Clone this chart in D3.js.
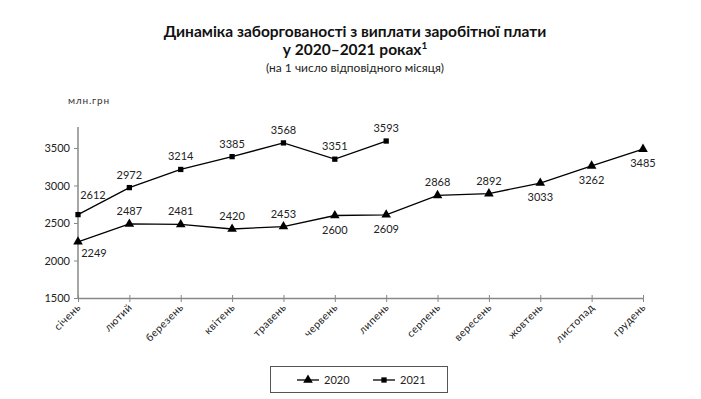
<!DOCTYPE html>
<html><head><meta charset="utf-8">
<script src="https://cdn.jsdelivr.net/npm/d3@7"></script>
<style>
html,body{margin:0;padding:0;background:#fff;}
svg{display:block;font-family:Lato, "Open Sans", sans-serif;}
</style></head><body>
<svg id="c" width="701" height="399"></svg>
<script>
const months = ["січень","лютий","березень","квітень","травень","червень","липень","серпень","вересень","жовтень","листопад","грудень"];
const values2020 = [2249,2487,2481,2420,2453,2600,2609,2868,2892,3033,3262,3485];
const values2021 = [2612,2972,3214,3385,3568,3351,3593];
const yTicks = [1500,2000,2500,3000,3500];
const labelPos2020 = ["belowRight","above","above","above","above","below","below","above","above","below","below","below"];
const labelPos2021 = ["aboveRight","above","above","above","above","above","above"];

const svg = d3.select("#c");
const x = d3.scalePoint().domain(months).range([78, 643]);
const y = d3.scaleLinear().domain([1500, 3780]).range([298, 127]);

// titles
svg.append("text").attr("x",355).attr("y",37).attr("text-anchor","middle")
  .attr("font-size",15.5).attr("font-weight","bold").attr("fill","#111")
  .text("Динаміка заборгованості з виплати заробітної плати");
const t2 = svg.append("text").attr("x",355).attr("y",55).attr("text-anchor","middle")
  .attr("font-size",15.5).attr("font-weight","bold").attr("fill","#111");
t2.append("tspan").text("у 2020–2021 роках");
t2.append("tspan").attr("font-size",10).attr("dy",-6).text("1");
svg.append("text").attr("x",355).attr("y",72).attr("text-anchor","middle")
  .attr("font-size",12).attr("fill","#222").text("(на 1 число відповідного місяця)");
svg.append("text").attr("x",68).attr("y",104).attr("font-size",10).attr("letter-spacing",0.8).attr("fill","#333").text("млн.грн");

// axes
const yAxis = svg.append("g").attr("transform","translate(78,0)")
  .call(d3.axisLeft(y).tickValues(yTicks).tickSize(4).tickPadding(4).tickFormat(d3.format("d")));
yAxis.select(".domain").attr("stroke","#888").attr("stroke-width",1.5).attr("d","M0,127V298");
yAxis.selectAll(".tick line").attr("stroke","#888");
yAxis.selectAll("text").attr("font-size",11).attr("fill","#222").attr("font-family","Lato, sans-serif");

const xAxis = svg.append("g").attr("transform","translate(0,298)")
  .call(d3.axisBottom(x).tickSize(4).tickSizeOuter(0));
xAxis.select(".domain").attr("stroke","#888").attr("stroke-width",1.5);
xAxis.selectAll(".tick line").attr("stroke","#888").attr("y1",-3);
xAxis.selectAll("text").attr("font-size",10.5).attr("letter-spacing",0.5).attr("fill","#222").attr("font-family","Lato, sans-serif")
  .attr("text-anchor","end").attr("dy",0).attr("y",0)
  .attr("transform","translate(3,10) rotate(-45)");

// lines
const line2020 = d3.line().x((d,i)=>x(months[i])).y(d=>y(d));
svg.append("path").attr("d",line2020(values2020)).attr("fill","none").attr("stroke","#000").attr("stroke-width",1.3);
svg.append("path").attr("d",line2020(values2021)).attr("fill","none").attr("stroke","#000").attr("stroke-width",1.3);

const tri = d3.symbol().type(d3.symbolTriangle).size(40);
const sq = d3.symbol().type(d3.symbolSquare).size(28);
svg.selectAll(".m20").data(values2020).enter().append("path")
  .attr("d",tri).attr("transform",(d,i)=>`translate(${x(months[i])},${y(d)})`).attr("fill","#000");
svg.selectAll(".m21").data(values2021).enter().append("path")
  .attr("d",sq).attr("transform",(d,i)=>`translate(${x(months[i])},${y(d)})`).attr("fill","#000");

function off(p){
  if(p==="above") return [0,-9];
  if(p==="below") return [0,18];
  if(p==="belowRight") return [16,15];
  if(p==="aboveRight") return [15,-16];
}
function labels(vals,pos){
  svg.selectAll(null).data(vals).enter().append("text")
    .attr("x",(d,i)=>x(months[i])+off(pos[i])[0])
    .attr("y",(d,i)=>y(d)+off(pos[i])[1])
    .attr("text-anchor","middle").attr("font-size",11).attr("fill","#222")
    .text(d=>d);
}
labels(values2020,labelPos2020);
labels(values2021,labelPos2021);

// legend
svg.append("rect").attr("x",270.5).attr("y",366.5).attr("width",177).attr("height",26)
  .attr("fill","none").attr("stroke","#555").attr("stroke-width",1);
const lg = [{name:"2020",sym:tri,x:297},{name:"2021",sym:sq,x:373}];
lg.forEach(l=>{
  svg.append("line").attr("x1",l.x).attr("x2",l.x+22).attr("y1",380).attr("y2",380).attr("stroke","#000").attr("stroke-width",1.3);
  svg.append("path").attr("d",l.sym).attr("transform",`translate(${l.x+11},380)`).attr("fill","#000");
  svg.append("text").attr("x",l.x+27).attr("y",384).attr("font-size",11).attr("fill","#222").text(l.name);
});
</script>
</body></html>
